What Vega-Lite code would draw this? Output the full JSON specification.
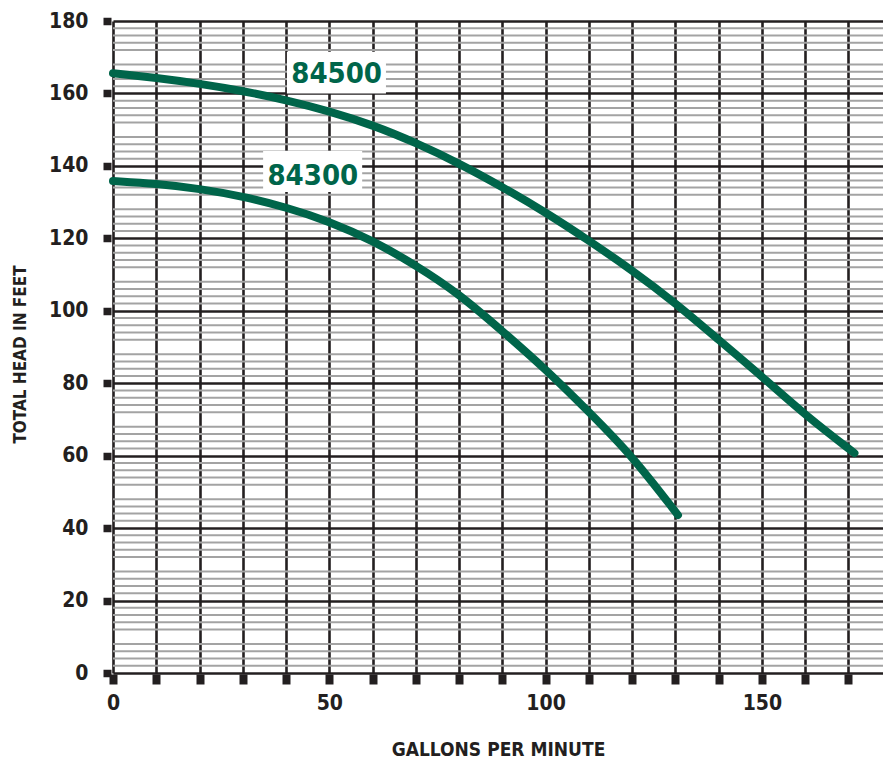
{
  "$schema": "https://vega.github.io/schema/vega-lite/v6.json",
  "description": "Pump performance curves, total head vs gallons per minute.",
  "width": 770,
  "height": 652,
  "autosize": "none",
  "padding": {"left": 113, "top": 21, "right": 0, "bottom": 86},
  "background": "white",
  "datasets": {
    "curves": [
      {"model": "84500", "gpm": 0, "head": 165.6},
      {"model": "84500", "gpm": 10, "head": 164.3},
      {"model": "84500", "gpm": 20, "head": 162.7},
      {"model": "84500", "gpm": 30, "head": 160.7},
      {"model": "84500", "gpm": 40, "head": 158.2},
      {"model": "84500", "gpm": 50, "head": 155.1},
      {"model": "84500", "gpm": 60, "head": 151.3},
      {"model": "84500", "gpm": 70, "head": 146.4},
      {"model": "84500", "gpm": 80, "head": 140.7},
      {"model": "84500", "gpm": 90, "head": 134.2},
      {"model": "84500", "gpm": 100, "head": 127.2},
      {"model": "84500", "gpm": 110, "head": 119.4},
      {"model": "84500", "gpm": 120, "head": 111.2},
      {"model": "84500", "gpm": 130, "head": 102.2},
      {"model": "84500", "gpm": 140, "head": 92.0},
      {"model": "84500", "gpm": 150, "head": 81.9},
      {"model": "84500", "gpm": 160, "head": 71.2},
      {"model": "84500", "gpm": 171.4, "head": 60.7},
      {"model": "84300", "gpm": 0, "head": 135.8},
      {"model": "84300", "gpm": 10, "head": 135.1},
      {"model": "84300", "gpm": 20, "head": 133.7},
      {"model": "84300", "gpm": 30, "head": 131.6},
      {"model": "84300", "gpm": 40, "head": 128.6},
      {"model": "84300", "gpm": 50, "head": 124.7},
      {"model": "84300", "gpm": 60, "head": 119.4},
      {"model": "84300", "gpm": 70, "head": 112.6},
      {"model": "84300", "gpm": 80, "head": 104.7},
      {"model": "84300", "gpm": 90, "head": 94.4},
      {"model": "84300", "gpm": 100, "head": 83.9},
      {"model": "84300", "gpm": 110, "head": 72.1},
      {"model": "84300", "gpm": 120, "head": 60.0},
      {"model": "84300", "gpm": 130.6, "head": 43.6}
    ],
    "minor": [
      {"head": 2}, {"head": 4}, {"head": 6}, {"head": 8},
      {"head": 12}, {"head": 14}, {"head": 16}, {"head": 18},
      {"head": 22}, {"head": 24}, {"head": 26}, {"head": 28},
      {"head": 32}, {"head": 34}, {"head": 36}, {"head": 38},
      {"head": 42}, {"head": 44}, {"head": 46}, {"head": 48},
      {"head": 52}, {"head": 54}, {"head": 56}, {"head": 58},
      {"head": 62}, {"head": 64}, {"head": 66}, {"head": 68},
      {"head": 72}, {"head": 74}, {"head": 76}, {"head": 78},
      {"head": 82}, {"head": 84}, {"head": 86}, {"head": 88},
      {"head": 92}, {"head": 94}, {"head": 96}, {"head": 98},
      {"head": 102}, {"head": 104}, {"head": 106}, {"head": 108},
      {"head": 112}, {"head": 114}, {"head": 116}, {"head": 118},
      {"head": 122}, {"head": 124}, {"head": 126}, {"head": 128},
      {"head": 132}, {"head": 134}, {"head": 136}, {"head": 138},
      {"head": 142}, {"head": 144}, {"head": 146}, {"head": 148},
      {"head": 152}, {"head": 154}, {"head": 156}, {"head": 158},
      {"head": 162}, {"head": 164}, {"head": 166}, {"head": 168},
      {"head": 172}, {"head": 174}, {"head": 176}, {"head": 178}
    ],
    "labels": [
      {"label": "84500", "gpm": 51.7, "head": 162.9, "x0": 40.2, "x1": 63.1, "y0": 160.0, "y1": 171.5},
      {"label": "84300", "gpm": 46.2, "head": 134.8, "x0": 34.7, "x1": 57.6, "y0": 132.8, "y1": 144.1}
    ]
  },
  "layer": [
    {
      "data": {"name": "minor"},
      "mark": {"type": "rule", "color": "#a3a3a3", "strokeWidth": 2},
      "encoding": {
        "y": {"field": "head", "type": "quantitative", "title": "TOTAL HEAD IN FEET"}
      }
    },
    {
      "data": {"name": "curves"},
      "mark": {"type": "line", "interpolate": "basis", "color": "#00654a", "strokeWidth": 8, "strokeCap": "round", "strokeJoin": "round"},
      "encoding": {
        "x": {
          "field": "gpm", "type": "quantitative", "title": "GALLONS PER MINUTE",
          "scale": {"domain": [0, 178], "nice": false, "zero": false},
          "axis": {
            "values": [0, 10, 20, 30, 40, 50, 60, 70, 80, 90, 100, 110, 120, 130, 140, 150, 160, 170],
            "labelExpr": "datum.value % 50 == 0 ? datum.label : ''",
            "grid": true, "gridColor": "#231f20", "gridWidth": 2.6,
            "domain": false,
            "ticks": true, "tickSize": 10, "tickWidth": 8, "tickColor": "#231f20", "offset": 1,
            "labelFlush": false, "labelOverlap": false, "labelPadding": 8,
            "labelFontSize": 21, "labelBaseline": "top",
            "titleFontSize": 19, "titleY": 81, "titleBaseline": "alphabetic"
          }
        },
        "y": {
          "field": "head", "type": "quantitative", "title": "TOTAL HEAD IN FEET",
          "scale": {"domain": [0, 180], "nice": false},
          "axis": {
            "values": [0, 10, 20, 30, 40, 50, 60, 70, 80, 90, 100, 110, 120, 130, 140, 150, 160, 170, 180],
            "labelExpr": "datum.value % 20 == 0 ? datum.label : ''",
            "grid": true, "gridColor": "#231f20", "gridWidth": 2.5,
            "domain": false,
            "ticks": true, "tickSize": 8, "tickWidth": 7.5, "tickColor": "#231f20", "offset": 2,
            "labelFlush": false, "labelOverlap": false, "labelPadding": 15,
            "labelFontSize": 21,
            "titleFontSize": 17, "titleX": -86, "titleY": 333, "titleBaseline": "alphabetic"
          }
        },
        "detail": {"field": "model", "type": "nominal"}
      }
    },
    {
      "data": {"name": "labels"},
      "mark": {"type": "rect", "fill": "white"},
      "encoding": {
        "x": {"field": "x0", "type": "quantitative", "title": "GALLONS PER MINUTE"},
        "x2": {"field": "x1"},
        "y": {"field": "y0", "type": "quantitative", "title": "TOTAL HEAD IN FEET"},
        "y2": {"field": "y1"}
      }
    },
    {
      "data": {"name": "labels"},
      "mark": {"type": "text", "color": "#00654a", "fontSize": 29, "fontWeight": "bold", "font": "DejaVu Sans Condensed, sans-serif", "align": "center", "baseline": "alphabetic"},
      "encoding": {
        "x": {"field": "gpm", "type": "quantitative", "title": "GALLONS PER MINUTE"},
        "y": {"field": "head", "type": "quantitative", "title": "TOTAL HEAD IN FEET"},
        "text": {"field": "label", "type": "nominal"}
      }
    }
  ],
  "config": {
    "view": {"stroke": null},
    "axis": {
      "labelFont": "DejaVu Sans Condensed, sans-serif",
      "labelFontWeight": "bold",
      "labelColor": "#231f20",
      "titleFont": "DejaVu Sans Condensed, sans-serif",
      "titleFontWeight": "bold",
      "titleColor": "#231f20"
    }
  }
}
